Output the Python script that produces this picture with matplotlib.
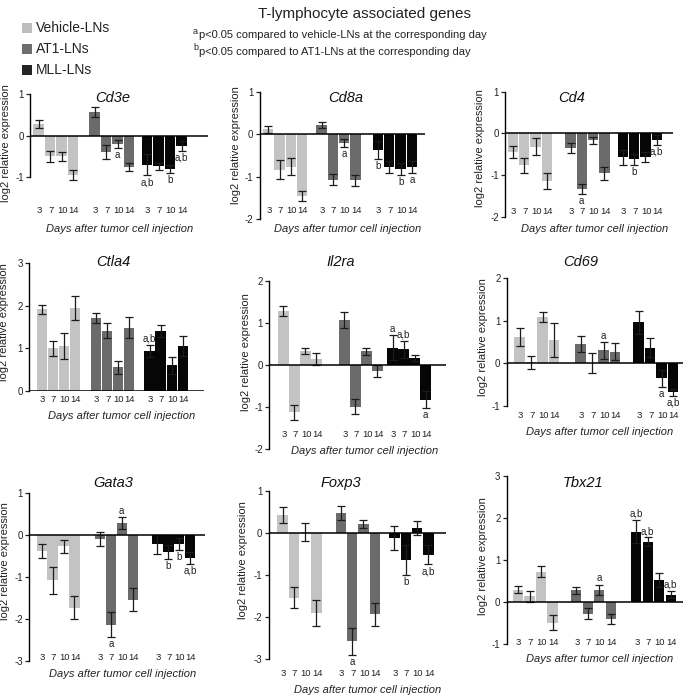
import matplotlib
matplotlib.use('Agg')
import matplotlib.pyplot as plt
from matplotlib.patches import Rectangle
from matplotlib.transforms import blended_transform_factory

plt.rcParams['font.family'] = ['Liberation Sans', 'DejaVu Sans']
plt.rcParams['axes.unicode_minus'] = False

# ---------------- data ----------------
days = ['3', '7', '10', '14']
groups = ['Vehicle-LNs', 'AT1-LNs', 'MLL-LNs']
genes = ['Cd3e', 'Cd8a', 'Cd4', 'Ctla4', 'Il2ra', 'Cd69', 'Gata3', 'Foxp3', 'Tbx21']

cd3e_mean = [[0.28, -0.50, -0.50, -0.94], [0.56, -0.40, -0.20, -0.75], [-0.70, -0.74, -0.80, -0.24]]
cd3e_err = [[0.10, 0.13, 0.10, 0.12], [0.12, 0.17, 0.09, 0.10], [0.25, 0.08, 0.10, 0.12]]
cd3e_sig = [['', '', '', ''], ['', '', 'a', ''], ['a,b', '', 'b', 'a,b']]

cd8a_mean = [[0.12, -0.83, -0.77, -1.45], [0.22, -1.07, -0.20, -1.08], [-0.37, -0.77, -0.82, -0.78]]
cd8a_err = [[0.08, 0.23, 0.20, 0.12], [0.07, 0.13, 0.09, 0.13], [0.22, 0.14, 0.14, 0.14]]
cd8a_sig = [['', '', '', ''], ['', '', 'a', ''], ['b', '', 'b', 'a']]

cd4_mean = [[-0.45, -0.77, -0.32, -1.14], [-0.35, -1.34, -0.17, -0.96], [-0.57, -0.62, -0.56, -0.15]]
cd4_err = [[0.15, 0.18, 0.20, 0.20], [0.13, 0.12, 0.08, 0.16], [0.18, 0.13, 0.12, 0.12]]
cd4_sig = [['', '', '', ''], ['', 'a', '', ''], ['', 'b', '', 'a,b']]

ctla4_mean = [[1.92, 1.00, 1.06, 1.95], [1.71, 1.42, 0.56, 1.49], [0.95, 1.41, 0.61, 1.06]]
ctla4_err = [[0.11, 0.17, 0.30, 0.29], [0.12, 0.18, 0.15, 0.24], [0.14, 0.13, 0.20, 0.23]]
ctla4_sig = [['', '', '', ''], ['', '', '', ''], ['a,b', '', '', '']]

il2ra_mean = [[1.28, -1.13, 0.33, 0.13], [1.07, -0.99, 0.32, -0.14], [0.41, 0.37, 0.16, -0.83]]
il2ra_err = [[0.11, 0.17, 0.08, 0.14], [0.19, 0.17, 0.08, 0.14], [0.30, 0.20, 0.08, 0.20]]
il2ra_sig = [['', '', '', ''], ['', '', '', ''], ['a', 'a,b', '', 'a']]

cd69_mean = [[0.61, 0.02, 1.09, 0.55], [0.45, 0.01, 0.30, 0.27], [0.96, 0.37, -0.35, -0.68]]
cd69_err = [[0.21, 0.16, 0.11, 0.40], [0.18, 0.23, 0.20, 0.20], [0.27, 0.23, 0.20, 0.08]]
cd69_sig = [['', '', '', ''], ['', '', 'a', ''], ['', '', 'a', 'a,b']]

gata3_mean = [[-0.39, -1.09, -0.28, -1.74], [-0.11, -2.14, 0.28, -1.55], [-0.23, -0.41, -0.23, -0.55]]
gata3_err = [[0.17, 0.33, 0.16, 0.27], [0.17, 0.30, 0.14, 0.27], [0.22, 0.16, 0.14, 0.14]]
gata3_sig = [['', '', '', ''], ['', 'a', 'a', ''], ['', 'b', 'b', 'a,b']]

foxp3_mean = [[0.43, -1.54, 0.02, -1.90], [0.47, -2.57, 0.21, -1.93], [-0.12, -0.64, 0.11, -0.52]]
foxp3_err = [[0.19, 0.25, 0.21, 0.30], [0.17, 0.32, 0.10, 0.27], [0.28, 0.36, 0.17, 0.22]]
foxp3_sig = [['', '', '', ''], ['', 'a', '', ''], ['', 'b', '', 'a,b']]

tbx21_mean = [[0.30, 0.14, 0.73, -0.49], [0.28, -0.27, 0.30, -0.40], [1.68, 1.44, 0.52, 0.18]]
tbx21_err = [[0.08, 0.13, 0.12, 0.18], [0.09, 0.13, 0.12, 0.11], [0.28, 0.10, 0.17, 0.09]]
tbx21_sig = [['', '', '', ''], ['', '', 'a', ''], ['a,b', 'a,b', '', 'a,b']]

means = [cd3e_mean, cd8a_mean, cd4_mean, ctla4_mean, il2ra_mean, cd69_mean, gata3_mean, foxp3_mean, tbx21_mean]
errs = [cd3e_err, cd8a_err, cd4_err, ctla4_err, il2ra_err, cd69_err, gata3_err, foxp3_err, tbx21_err]
sigs = [cd3e_sig, cd8a_sig, cd4_sig, ctla4_sig, il2ra_sig, cd69_sig, gata3_sig, foxp3_sig, tbx21_sig]
yticks = [[-1, 0, 1], [-2, -1, 0, 1], [-2, -1, 0, 1], [0, 1, 2, 3], [-2, -1, 0, 1, 2],
          [-1, 0, 1, 2], [-3, -2, -1, 0, 1], [-3, -2, -1, 0, 1], [-1, 0, 1, 2, 3]]

# ---------------- layout (pixels) ----------------
W, H = 684, 696
colors = ['#c3c3c3', '#6b6b6b', '#060606']
layout = [
    dict(L=30, R=208, ytop=94, ybot=177.3, g=[38.5, 94.5, 147], p=11.5, ty=210.7, xl=(120, 229), ti=(113, 98), yl=(6, 143)),
    dict(L=259.7, R=424.7, ytop=91.7, ybot=219.3, g=[268.2, 321.5, 378], p=11.3, ty=210.7, xl=(348, 229), ti=(346, 98), yl=(236, 145)),
    dict(L=505, R=673, ytop=91.7, ybot=216.7, g=[513, 570.5, 622.8], p=11.3, ty=212, xl=(595, 229), ti=(572, 98), yl=(480, 148)),
    dict(L=29, R=204, ytop=263.3, ybot=391, g=[41.7, 96, 149.5], p=11.1, ty=399, xl=(122, 415.7), ti=(113, 262), yl=(4, 322)),
    dict(L=269, R=446, ytop=280.7, ybot=449, g=[283.5, 344.5, 392.5], p=11.0, ty=434, xl=(364.7, 450.7), ti=(341, 262), yl=(246, 351.7)),
    dict(L=506.7, R=683, ytop=278.3, ybot=405.7, g=[519.5, 580.5, 638.5], p=11.5, ty=415, xl=(600, 431.7), ti=(581, 262), yl=(483, 336.7)),
    dict(L=29, R=205, ytop=492.7, ybot=660.7, g=[41.7, 100, 157.5], p=10.9, ty=657.7, xl=(123, 674), ti=(113, 482.7), yl=(5, 560.8)),
    dict(L=268.7, R=446.3, ytop=490.7, ybot=659.3, g=[282.5, 340.8, 394.5], p=11.3, ty=673.3, xl=(368, 690), ti=(341, 482.7), yl=(243, 560)),
    dict(L=506.7, R=683, ytop=476, ybot=644.3, g=[518, 576.3, 636.2], p=11.5, ty=642.7, xl=(600, 659.3), ti=(583, 483), yl=(483, 555.8)),
]
BAR_W = 10.3
DAY_SHIFT = 0.7


def fx(px):
    return px / W


def fy(py):
    return 1 - py / H


fig = plt.figure(figsize=(W / 100, H / 100), dpi=100)

for k, gene in enumerate(genes):
    lo = layout[k]
    ax = fig.add_axes([fx(lo['L']), fy(lo['ybot']), (lo['R'] - lo['L']) / W, (lo['ybot'] - lo['ytop']) / H])
    ax.set_xlim(lo['L'], lo['R'])
    ax.set_ylim(min(yticks[k]), max(yticks[k]))
    ax.patch.set_alpha(0)
    for s in ['top', 'right', 'bottom']:
        ax.spines[s].set_visible(False)
    ax.spines['left'].set_linewidth(1.0)
    ax.set_xticks([])
    ax.set_yticks(yticks[k])
    ax.tick_params(axis='y', length=3, width=0.9, pad=1.5, labelsize=7, colors='#222222')
    trans = blended_transform_factory(ax.transData, fig.transFigure)
    for gi in range(len(groups)):
        xs = [lo['g'][gi] + i * lo['p'] for i in range(len(days))]
        ax.bar(xs, means[k][gi], width=BAR_W, color=colors[gi], zorder=2, clip_on=False)
        eb = ax.errorbar(xs, means[k][gi], yerr=errs[k][gi], fmt='none', ecolor='#1c1c1c',
                         elinewidth=0.9, capsize=2.8, capthick=0.9, zorder=3)
        for part in eb.lines:
            if part is None:
                continue
            items = part if isinstance(part, tuple) else (part,)
            for it in items:
                it.set_clip_on(False)
        for i, x in enumerate(xs):
            t = sigs[k][gi][i]
            if not t:
                continue
            v, e = means[k][gi][i], errs[k][gi][i]
            if v < 0:
                ax.annotate(t, (x, v - e), xytext=(0, -1.5), textcoords='offset points',
                            ha='center', va='top', fontsize=7, color='#222222', annotation_clip=False)
            else:
                ax.annotate(t, (x, v + e), xytext=(0, 0.8), textcoords='offset points',
                            ha='center', va='bottom', fontsize=7, color='#222222', annotation_clip=False)
        for i, x in enumerate(xs):
            ax.text(x + DAY_SHIFT, fy(lo['ty']), days[i], transform=trans, ha='center', va='center',
                    fontsize=6.8, color='#222222')
    ax.axhline(0, color='black', lw=1.1, zorder=4)
    fig.text(fx(lo['ti'][0]), fy(lo['ti'][1]), gene, ha='center', va='center',
             fontsize=10.5, style='italic', color='#111111')
    fig.text(fx(lo['xl'][0]), fy(lo['xl'][1]), 'Days after tumor cell injection', ha='center',
             va='center', fontsize=8, style='italic', color='#222222')
    fig.text(fx(lo['yl'][0]), fy(lo['yl'][1]), 'log2 relative expression', ha='center',
             va='center', rotation=90, fontsize=8, color='#222222')

# ---------------- header ----------------
fig.text(fx(365), fy(14), 'T-lymphocyte associated genes', ha='center', va='center',
         fontsize=11, color='#222222')

legend_y = [27.7, 49, 69.5]
legend_cols = ['#bdbdbd', '#6e6e6e', '#242424']
for gi, name in enumerate(groups):
    fig.add_artist(Rectangle((fx(22), fy(legend_y[gi] + 5)), 10 / W, 10 / H,
                             transform=fig.transFigure, facecolor=legend_cols[gi], edgecolor='none'))
    fig.text(fx(36), fy(legend_y[gi]), name, ha='left', va='center', fontsize=10, color='#222222')

fig.text(fx(193), fy(31.5), 'a', ha='left', va='center', fontsize=6.5, color='#222222')
fig.text(fx(199), fy(35.5), 'p<0.05 compared to vehicle-LNs at the corresponding day',
         ha='left', va='center', fontsize=8, color='#222222')
fig.text(fx(193), fy(48), 'b', ha='left', va='center', fontsize=6.5, color='#222222')
fig.text(fx(199), fy(52), 'p<0.05 compared to AT1-LNs at the corresponding day',
         ha='left', va='center', fontsize=8, color='#222222')

fig.savefig('out.png', dpi=100, facecolor='white')
